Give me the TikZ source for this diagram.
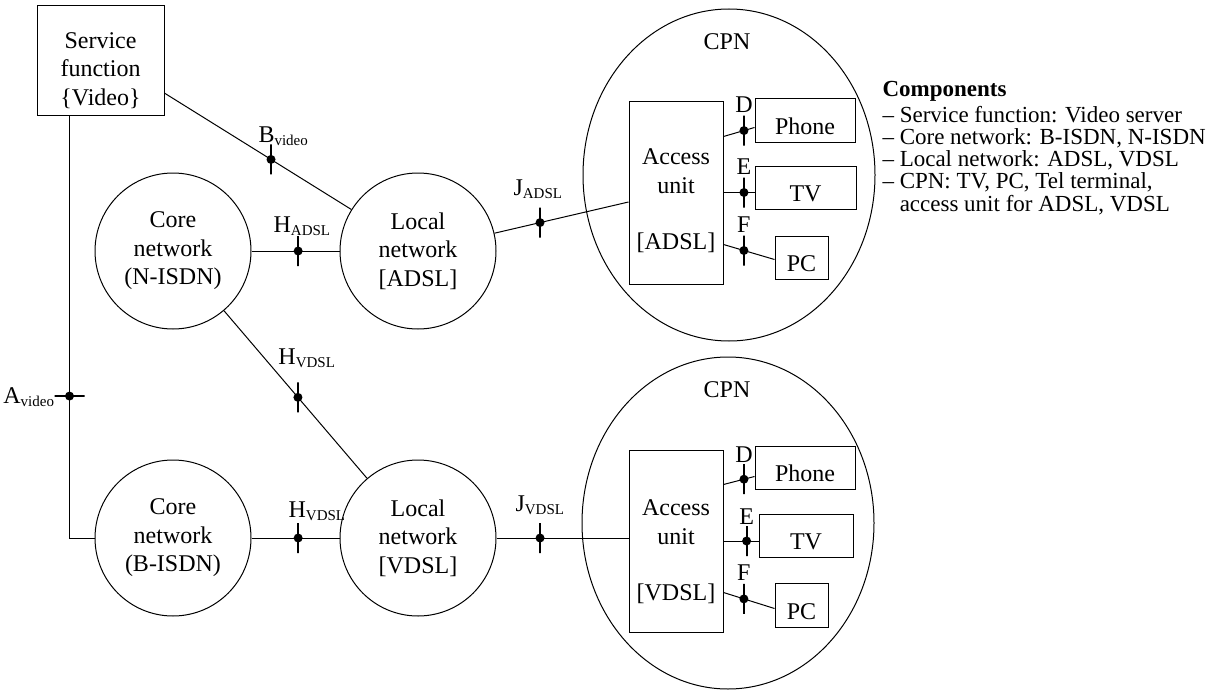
\documentclass[tikz,border=0pt]{standalone}
\usepackage{fontspec}
\setmainfont{Liberation Serif}
\usepackage{tikz}
\usetikzlibrary{shapes.geometric, calc, positioning}
\newcommand{\mainsz}{\fontsize{24}{28.5}\selectfont}
\newcommand{\compsz}{\fontsize{23}{22.3}\selectfont}
\newcommand{\subtxt}[1]{\raisebox{-3pt}{\fontsize{15}{15}\selectfont #1}}
\tikzset{
  net/.style={draw, circle, minimum size=156pt, inner sep=0pt, align=center},
  cpn/.style={draw, ellipse, minimum width=292pt, minimum height=332pt, inner sep=0pt},
  box/.style={draw, rectangle, inner sep=0pt, align=center},
  dev/.style={draw, rectangle, inner sep=0pt, text height=28pt, text depth=0pt},
  tickv/.style={draw, line width=1.8pt, minimum width=0pt, minimum height=30pt, inner sep=0pt},
  tickh/.style={draw, line width=1.8pt, minimum width=30pt, minimum height=0pt, inner sep=0pt},
  refpt/.style={circle, fill, inner sep=0pt, minimum size=9pt, label={[tickv]center:}},
  refpth/.style={circle, fill, inner sep=0pt, minimum size=9pt, label={[tickh]center:}},
  lbl/.style={inner sep=0pt}
}

\begin{document}
\begin{tikzpicture}[x=1pt, y=-1pt, line width=1pt, font=\mainsz]
\useasboundingbox (0,0) rectangle (1221,693);
% service function and networks
\node[box, minimum width=127pt, minimum height=109pt] (sf) at (100.5,60.5) {\rule{0pt}{36pt}Service\\function\\\{Video\}};
\node[net] (cN) at (173,251) {Core\\network\\(N-ISDN)};
\node[net] (lnA) at (418,251) {Local\\network\\{[ADSL]}};
\node[net] (cB) at (173,538) {Core\\network\\(B-ISDN)};
\node[net] (lnV) at (418,538) {Local\\network\\{[VDSL]}};
% customer premises
\node[cpn] (cpnA) at (729,175) {};
\node (cpnAt) at (727,42) {CPN};
\node[cpn] (cpnV) at (728,523) {};
\node (cpnVt) at (727,390) {CPN};
\node[box, minimum width=94pt, minimum height=183pt] (auA) at (676,192.5) {\rule{0pt}{33pt}Access\\unit\\[28pt]{[ADSL]}};
\node[box, minimum width=94pt, minimum height=182pt] (auV) at (676,541) {\rule{0pt}{38pt}Access\\unit\\[28pt]{[VDSL]}};
\node[dev, minimum width=100pt, minimum height=44pt] (phA) at (805,120) {Phone};
\node[dev, minimum width=101pt, minimum height=43pt] (tvA) at (805.5,187.5) {TV};
\node[dev, minimum width=53pt, minimum height=43pt] (pcA) at (801.5,257.5) {PC};
\node[dev, minimum width=100pt, minimum height=43pt] (phV) at (805,467.5) {Phone};
\node[dev, minimum width=94pt, minimum height=43pt] (tvV) at (806,535.5) {TV};
\node[dev, minimum width=53pt, minimum height=44pt] (pcV) at (801.5,605) {PC};
% connections with reference points
\draw (sf.-27) -- node[refpt, pos=0.57] (mB) {} (lnA);
\draw ([xshift=33pt]sf.south west) |- node[refpth, pos=0.332] (mA) {} (cB);
\draw (cN) -- node[refpt, pos=0.53] (mHA) {} (lnA);
\draw (cN) -- node[refpt, pos=0.517] (mHVd) {} (lnV);
\draw (cB) -- node[refpt, pos=0.53] (mHVh) {} (lnV);
\draw (lnA) -- node[refpt, pos=0.34] (mJA) {} ([yshift=-9.5pt]auA.west);
\draw (lnV) -- node[refpt, pos=0.33] (mJV) {} (lnV -| auV.west);
\draw ([yshift=-36pt]auA.north east) -- node[refpt, pos=0.66] (mDA) {} ([yshift=-30pt]phA.north west);
\draw (auA.east) -- node[refpt, pos=0.66] (mEA) {} (auA.east -| tvA.west);
\draw ([yshift=-144pt]auA.north east) -- node[refpt, pos=0.40] (mFA) {} ([yshift=-24pt]pcA.north west);
\draw ([yshift=-35pt]auV.north east) -- node[refpt, pos=0.66] (mDV) {} ([yshift=-31pt]phV.north west);
\draw (auV.east) -- node[refpt, pos=0.66] (mEV) {} (auV.east -| tvV.west);
\draw ([yshift=-143pt]auV.north east) -- node[refpt, pos=0.40] (mFV) {} ([yshift=-26pt]pcV.north west);
% labels
\node[lbl, anchor=base east] (lA) at ($(mA)+(-15,7)$) {A\subtxt{video}};
\node[lbl, anchor=base west] (lB) at ($(mB)+(-13,-17)$) {B\subtxt{video}};
\node[lbl, anchor=base west] (lHA) at ($(mHA)+(-25,-19)$) {H\subtxt{ADSL}};
\node[lbl, anchor=base west] (lHVd) at ($(mHVd)+(-20,-33)$) {H\subtxt{VDSL}};
\node[lbl, anchor=base west] (lHVh) at ($(mHVh)+(-10,-21)$) {H\subtxt{VDSL}};
\node[lbl, anchor=base west] (lJA) at ($(mJA)+(-27,-27)$) {J\subtxt{ADSL}};
\node[lbl, anchor=base west] (lJV) at ($(mJV)+(-25,-27)$) {J\subtxt{VDSL}};
\node[lbl, anchor=base] (lDA) at ($(mDA)+(0,-18)$) {D};
\node[lbl, anchor=base] (lEA) at ($(mEA)+(0,-18)$) {E};
\node[lbl, anchor=base] (lFA) at ($(mFA)+(0,-18)$) {F};
\node[lbl, anchor=base] (lDV) at ($(mDV)+(0,-17)$) {D};
\node[lbl, anchor=base] (lEV) at ($(mEV)+(0,-17)$) {E};
\node[lbl, anchor=base] (lFV) at ($(mFV)+(0,-18)$) {F};
% component list
\node[lbl, anchor=north west, align=left, font=\compsz] (comp) at (882,81) {\textbf{Components}\\[3pt]– Service function: Video server\\– Core network: B-ISDN, N-ISDN\\– Local network: ADSL, VDSL\\– CPN: TV, PC, Tel terminal,\\\hphantom{– }access unit for ADSL, VDSL};
\end{tikzpicture}
\end{document}
